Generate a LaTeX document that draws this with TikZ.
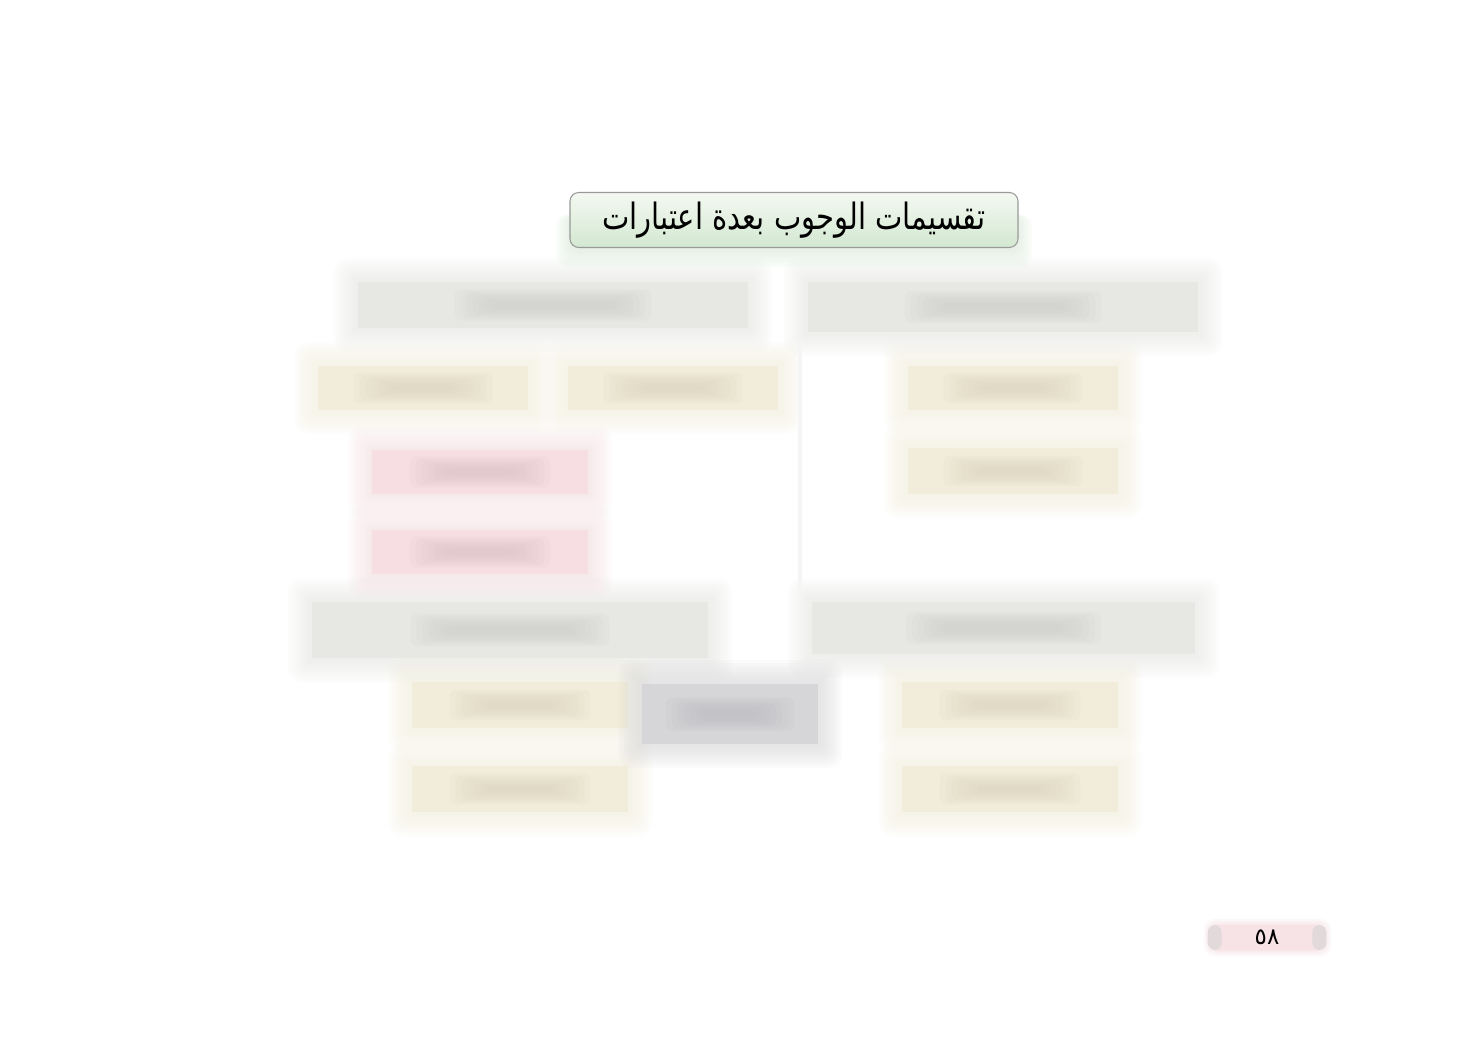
\documentclass[tikz,border=0pt]{standalone}
\usepackage{fontspec}
\newfontfamily\arabicfont[Script=Arabic]{DejaVu Sans}
\TeXXeTstate=1
\usetikzlibrary{calc}
\definecolor{hdr}{HTML}{E6E7E3}
\definecolor{hdrblob}{HTML}{CBCCC7}
\definecolor{beige}{HTML}{F2EDD8}
\definecolor{beigeblob}{HTML}{D9D2BD}
\definecolor{pinkbox}{HTML}{F6DCE1}
\definecolor{pinkblob}{HTML}{D8BFC4}
\definecolor{midgray}{HTML}{D4D4D7}
\definecolor{midblob}{HTML}{BABAC0}
\definecolor{titletop}{HTML}{F4F9F2}
\definecolor{titlebot}{HTML}{D3E8D1}
\definecolor{pagepink}{HTML}{F7E2E5}
\definecolor{pageend}{HTML}{DCD7D8}
% #1 name, #2 x1, #3 y1, #4 x2, #5 y2, #6 fill, #7 blob colour
\newcommand{\softbox}[7]{%
  \foreach \k in {1,...,8}{%
    \fill[#6, opacity=0.09, rounded corners=\k pt] ({#2-\k*3},{#3-\k*3}) rectangle ({#4+\k*3},{#5+\k*3});
  }
  \node[softcore, fill=#6, fill opacity=0.85, minimum width={(#4-#2)*0.02cm}, minimum height={(#5-#3)*0.02cm}]
    (#1) at ({(#2+#4)/2},{(#3+#5)/2}) {};
  \foreach \k in {0,...,6}{%
    \fill[#7, opacity=0.12, rounded corners=4pt] ($(#1.center)+({-0.16*(#4-#2)-\k*6},{-0.08*(#5-#3)-\k*2})$)
      rectangle ($(#1.center)+({0.16*(#4-#2)+\k*6},{0.08*(#5-#3)+\k*2})$);
  }
}
\tikzset{
  softcore/.style={draw=none, inner sep=0pt, outer sep=0pt},
  faintline/.style={draw=black!4, line width=2pt},
}
\begin{document}
\begin{tikzpicture}[x=0.02cm,y=-0.02cm]
\useasboundingbox[fill=white] (0,0) rectangle (1477,1040);

% title glow below
\foreach \k in {1,...,8}{%
  \fill[titlebot, opacity=0.08, rounded corners=6pt] ({572-\k*2},{215}) rectangle ({1016+\k*2},{248+\k*2.5});
}
\node[draw=black!40, line width=0.6pt, rounded corners=5pt, top color=titletop, bottom color=titlebot,
      minimum width={448*0.02cm}, minimum height={55*0.02cm}, inner sep=0pt]
  (title) at (794,220) {\scalebox{1}[1.25]{\arabicfont\fontsize{16.5}{20}\selectfont\beginR تقسيمات الوجوب بعدة اعتبارات\endR}};

% headers
\softbox{hdrTL}{358}{282}{748}{328}{hdr}{hdrblob}
\softbox{hdrTR}{808}{282}{1198}{332}{hdr}{hdrblob}
\softbox{hdrBL}{312}{602}{708}{658}{hdr}{hdrblob}
\softbox{hdrBR}{812}{602}{1195}{654}{hdr}{hdrblob}

% top-left row
\softbox{tl1}{318}{366}{528}{410}{beige}{beigeblob}
\softbox{tl2}{568}{366}{778}{410}{beige}{beigeblob}

% pink boxes
\softbox{pk1}{372}{450}{588}{494}{pinkbox}{pinkblob}
\softbox{pk2}{372}{530}{588}{574}{pinkbox}{pinkblob}

% right column
\softbox{tr1}{908}{366}{1118}{410}{beige}{beigeblob}
\softbox{tr2}{908}{448}{1118}{494}{beige}{beigeblob}

% bottom-left
\softbox{bl1}{412}{682}{628}{728}{beige}{beigeblob}
\softbox{bl2}{412}{766}{628}{812}{beige}{beigeblob}

% middle grey box
\softbox{mid}{642}{684}{818}{744}{midgray}{midblob}

% bottom-right
\softbox{br1}{902}{682}{1118}{728}{beige}{beigeblob}
\softbox{br2}{902}{766}{1118}{812}{beige}{beigeblob}

% faint divider
\coordinate (divtop) at ($(hdrTR.south west)+(-8,12)$);
\coordinate (divbot) at ($(hdrBR.north west)+(-12,-12)$);
\draw[faintline] (divtop) -- (divbot);

% page number
\foreach \k in {1,...,3}{%
  \fill[pagepink, opacity=0.25, rounded corners=6pt] ({1210-\k*2},{925-\k*2}) rectangle ({1325+\k*2},{950+\k*2});
}
\node[draw=none, fill=pagepink, rounded corners=5pt, minimum width={118*0.02cm}, minimum height={26*0.02cm}, inner sep=0pt]
  (page) at (1267,937.5) {\arabicfont\fontsize{13}{15}\selectfont ٥٨};
\fill[pageend, opacity=0.8, rounded corners=4pt] ($(page.north west)+(0,1)$) rectangle ($(page.south west)+(14,-1)$);
\fill[pageend, opacity=0.8, rounded corners=4pt] ($(page.north east)+(-14,1)$) rectangle ($(page.south east)+(0,-1)$);
\end{tikzpicture}
\end{document}
